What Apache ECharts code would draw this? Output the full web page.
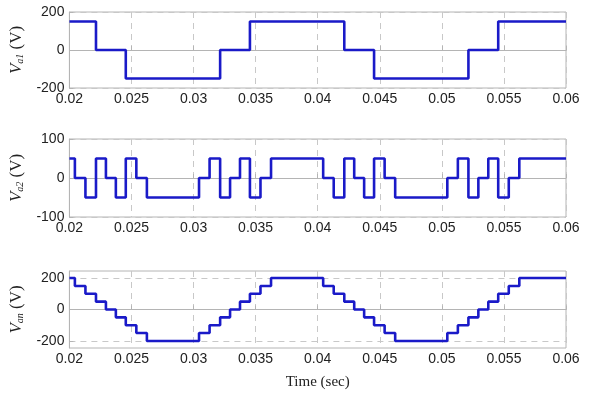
<!DOCTYPE html>
<html>
<head>
<meta charset="utf-8">
<script src="https://cdn.jsdelivr.net/npm/echarts@6/dist/echarts.min.js"></script>
<style>
html,body{margin:0;padding:0;background:#fff;}
#c{width:600px;height:394px;}
</style>
</head>
<body>
<div id="c"></div>
<script>
// ---- data ----
var xTicks = [0.02, 0.025, 0.03, 0.035, 0.04, 0.045, 0.05, 0.055, 0.06];
var va1Times  = [0.02, 0.02214, 0.02454, 0.03214, 0.03454, 0.04214, 0.04454, 0.05214, 0.05454, 0.06];
var va1Values = [150, 0, -150, 0, 150, 0, -150, 0, 150, 150];
var stepTimes = [0.02, 0.02044, 0.02129, 0.02214, 0.02294, 0.02374, 0.02454, 0.02539, 0.02624,
                 0.03044, 0.03129, 0.03214, 0.03294, 0.03374, 0.03454, 0.03539, 0.03624,
                 0.04044, 0.04129, 0.04214, 0.04294, 0.04374, 0.04454, 0.04539, 0.04624,
                 0.05044, 0.05129, 0.05214, 0.05294, 0.05374, 0.05454, 0.05539, 0.05624, 0.06];
var va2Values = [50, 0, -50, 50, 0, -50, 50, 0, -50,
                 0, 50, -50, 0, 50, -50, 0, 50,
                 0, -50, 50, 0, -50, 50, 0, -50,
                 0, 50, -50, 0, 50, -50, 0, 50, 50];
var vanValues = [200, 150, 100, 50, 0, -50, -100, -150, -200,
                 -150, -100, -50, 0, 50, 100, 150, 200,
                 150, 100, 50, 0, -50, -100, -150, -200,
                 -150, -100, -50, 0, 50, 100, 150, 200, 200];
var va1Ticks = [-200, 0, 200];
var va2Ticks = [-100, 0, 100];
var vanTicks = [-200, 0, 200];
var yNames = ['a1', 'a2', 'an'];
var xName = 'Time (sec)';

function pairs(ts, vs){ return ts.map(function(t,i){ return [t, vs[i]]; }); }

var lineColor = '#1a1ac8';
var frame = '#b4b4b4';
var gridCol = '#c8c8c8';
var tickFont = {fontFamily:'Liberation Sans, Arial, sans-serif', fontSize:14, color:'#222'};

var grids = [
  {left:66, width:500, top:12, height:76},
  {left:66, width:500, top:139, height:78},
  {left:66, width:500, top:271, height:77}
];

function xAxis(i){
  return {
    type:'value', gridIndex:i, min:0.02, max:0.06, interval:0.005,
    axisLine:{show:true, lineStyle:{color:frame}},
    axisTick:{show:true, inside:true, length:4, lineStyle:{color:frame}},
    splitLine:{show:true, lineStyle:{color:gridCol, type:[6,5], width:1}},
    axisLabel:Object.assign({margin:4, showMaxLabel:true, showMinLabel:true,
      formatter:function(v){ return String(+v.toFixed(3)); }}, tickFont),
    name: i===2 ? xName : '',
    nameLocation:'middle', nameGap:27,
    nameTextStyle:{fontFamily:'Liberation Serif, Times New Roman, serif', fontSize:15, color:'#222'}
  };
}
function yAxis(i, mn, mx, ticks){
  return {
    type:'value', gridIndex:i, min:mn, max:mx,
    axisLine:{show:true, lineStyle:{color:frame}},
    axisTick:{show:true, inside:true, length:4, lineStyle:{color:frame}, customValues:ticks},
    splitLine:{show:true, lineStyle:{color:gridCol, type:[6,5], width:1}},
    axisLabel:Object.assign({margin:5, customValues:ticks}, tickFont),
    name:'{v|V}{s|' + yNames[i] + '}{n| (V)}',
    nameLocation:'middle', nameRotate:90, nameGap:42,
    nameTextStyle:{
      rich:{
        v:{fontFamily:'Liberation Serif, serif', fontStyle:'italic', fontSize:17, color:'#222'},
        s:{fontFamily:'Liberation Serif, serif', fontStyle:'italic', fontSize:10, color:'#222', padding:[8,0,0,0]},
        n:{fontFamily:'Liberation Serif, serif', fontSize:17, color:'#222'}
      }
    }
  };
}

var chart = echarts.init(document.getElementById('c'), null, {renderer:'canvas'});
chart.setOption({
  animation:false,
  backgroundColor:'#fff',
  grid: grids.map(function(g){ return Object.assign({show:true, borderColor:frame, borderWidth:1, backgroundColor:'transparent'}, g); }),
  xAxis:[xAxis(0), xAxis(1), xAxis(2)],
  yAxis:[yAxis(0,-200,200,va1Ticks), yAxis(1,-100,100,va2Ticks), yAxis(2,-245,245,vanTicks)],
  graphic:[{type:'rect', left:579, top:0, shape:{width:21, height:394}, style:{fill:'#fff'}, z:100, silent:true}],
  series:[
    {type:'line', xAxisIndex:0, yAxisIndex:0, step:'end', showSymbol:false, data:pairs(va1Times, va1Values), lineStyle:{color:lineColor, width:2.6}},
    {type:'line', xAxisIndex:1, yAxisIndex:1, step:'end', showSymbol:false, data:pairs(stepTimes, va2Values), lineStyle:{color:lineColor, width:2.6}},
    {type:'line', xAxisIndex:2, yAxisIndex:2, step:'end', showSymbol:false, data:pairs(stepTimes, vanValues), lineStyle:{color:lineColor, width:2.6}}
  ]
});
</script>
</body>
</html>
